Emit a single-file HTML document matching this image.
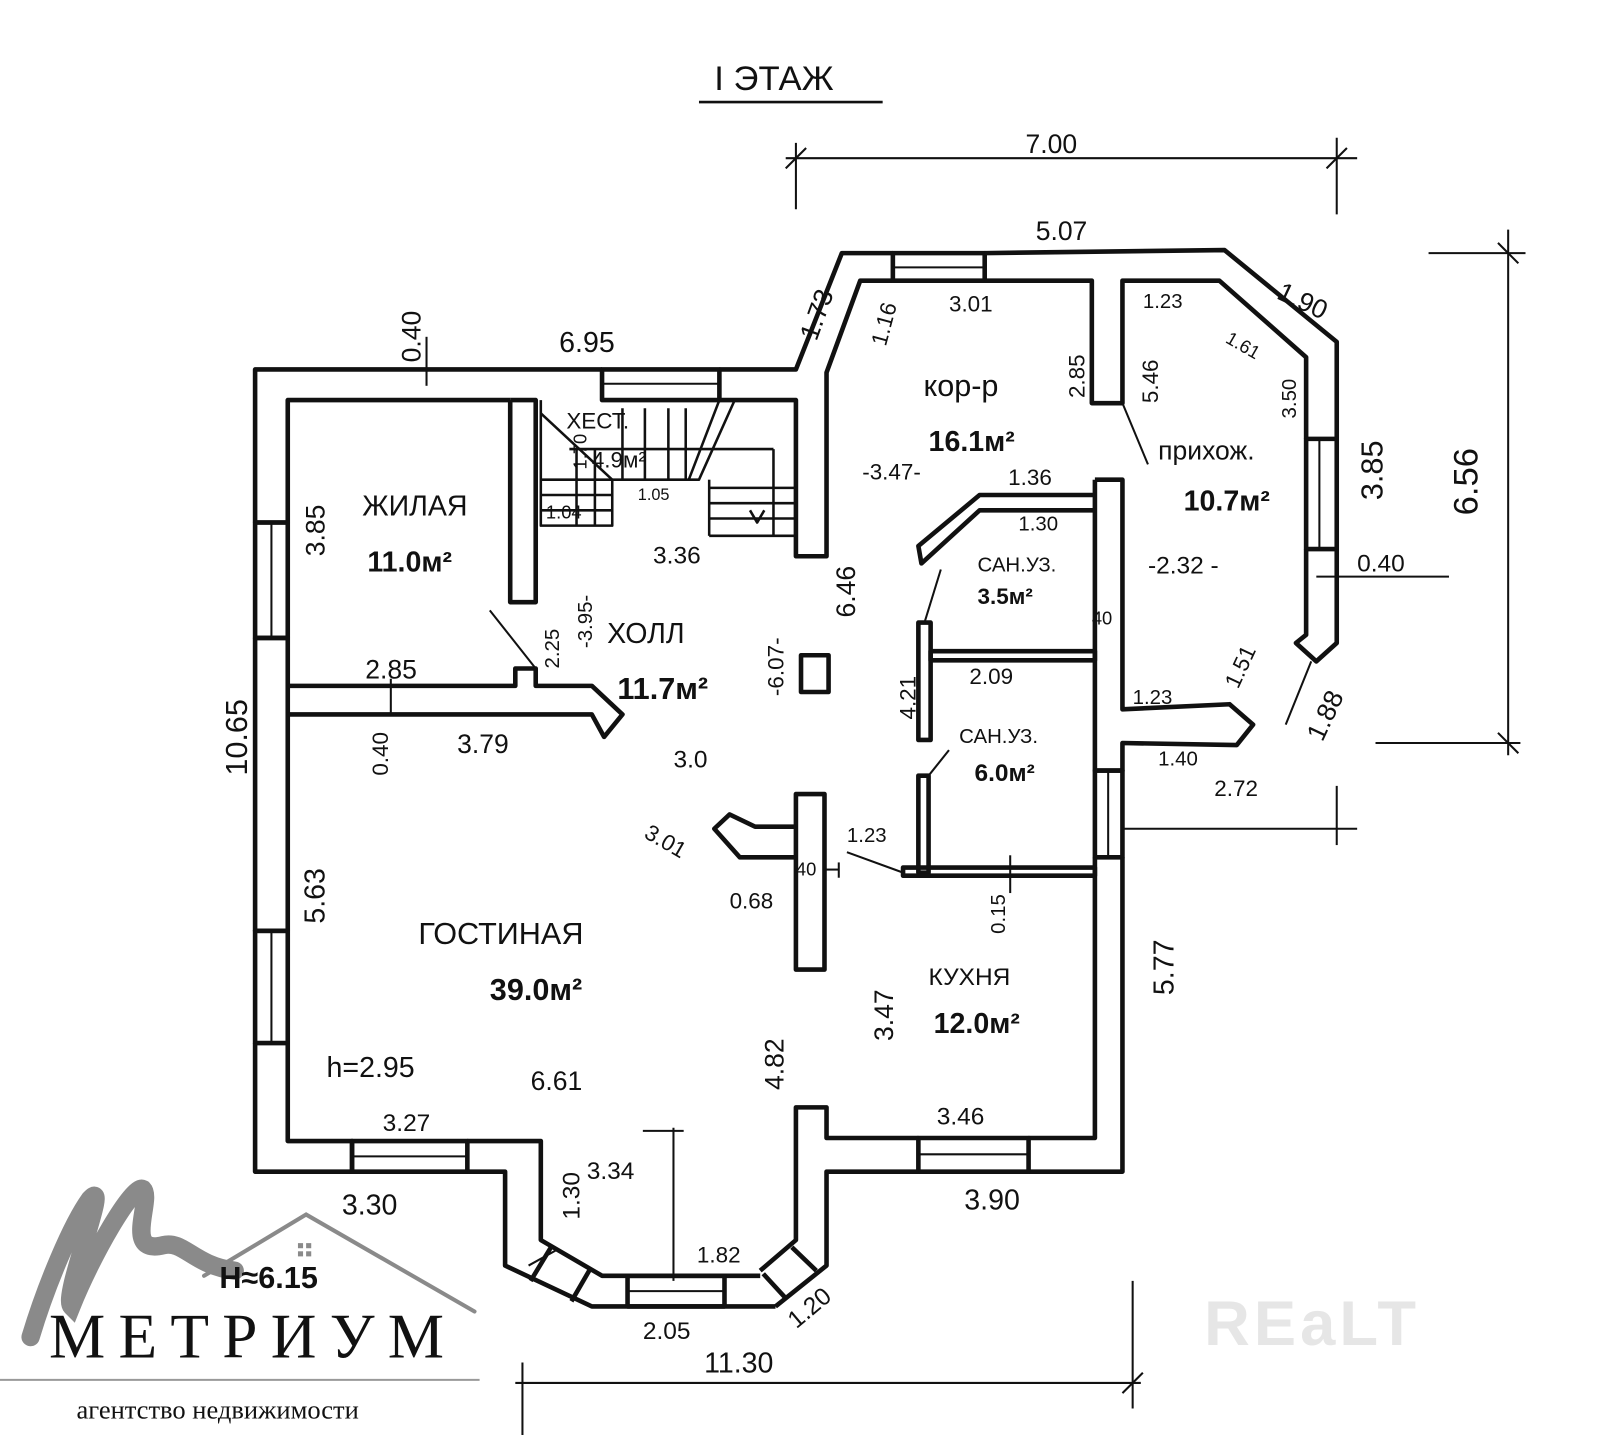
<!DOCTYPE html>
<html><head><meta charset="utf-8"><style>
html,body{margin:0;padding:0;background:#fff;}
svg{display:block}
text{font-family:"Liberation Sans",sans-serif;fill:#111;}
</style></head><body>
<svg width="1600" height="1435" viewBox="0 0 1568 1406" preserveAspectRatio="none" xmlns="http://www.w3.org/2000/svg">
<rect width="1568" height="1406" fill="#fff"/>
<g stroke="#111" stroke-width="4.5" fill="none" stroke-linejoin="round">
<line x1="685" y1="100" x2="865" y2="100" stroke-width="2.5"/>
<polyline points="250,512 250,362 590,362"/>
<polyline points="282,512 282,392 500,392"/>
<line x1="250" y1="512" x2="282" y2="512"/>
<rect x="250" y="512" width="32" height="113" fill="#fff"/><line x1="266" y1="512" x2="266" y2="625" stroke-width="2"/>
<polyline points="250,625 250,912 282,912 282,625 250,625"/>
<rect x="250" y="912" width="32" height="110"/><line x1="266" y1="912" x2="266" y2="1022" stroke-width="2"/>
<polyline points="250,1022 250,1148 345,1148 345,1118 282,1118 282,1022"/>
<rect x="345" y="1118" width="113" height="30"/><line x1="345" y1="1133" x2="458" y2="1133" stroke-width="2"/>
<rect x="590" y="362" width="115" height="30"/><line x1="590" y1="376" x2="705" y2="376" stroke-width="2"/>
<polyline points="705,362 780,362 825,248 875,248"/>
<polyline points="705,392 780,392 780,545 810,545 810,365 843,275 875,275"/>
<rect x="875" y="248" width="90" height="27"/><line x1="875" y1="262" x2="965" y2="262" stroke-width="2"/>
<polyline points="965,248 1200,245 1310,335 1310,430"/>
<polyline points="965,275 1070,275 1070,395 1100,395 1100,275 1195,275 1280,350 1280,430"/>
<rect x="1280" y="430" width="30" height="108"/><line x1="1293" y1="430" x2="1293" y2="538" stroke-width="2"/>
<polyline points="1280,538 1280,622 1270,630 1290,648 1310,630 1310,538"/>
<polyline points="1073,470 1100,470 1100,695 1205,690 1228,710 1212,730 1100,728 1100,755 1073,755 1073,470"/>
<rect x="1073" y="755" width="27" height="85"/><line x1="1086" y1="755" x2="1086" y2="840" stroke-width="2"/>
<polyline points="1100,840 1100,1148 1008,1148"/>
<polyline points="1073,840 1073,1115 1008,1115"/>
<rect x="900" y="1115" width="108" height="33"/><line x1="900" y1="1131" x2="1008" y2="1131" stroke-width="2"/>
<polyline points="900,1115 810,1115 810,1085 780,1085 780,1215 745,1245"/>
<polyline points="900,1148 810,1148 810,1240 760,1280"/>
<polyline points="458,1118 530,1118 530,1215 590,1250 745,1250"/>
<polyline points="458,1148 495,1148 495,1240 580,1280 760,1280"/>
<rect x="615" y="1250" width="95" height="30"/><line x1="615" y1="1265" x2="710" y2="1265" stroke-width="2"/>
<line x1="540" y1="1222" x2="520" y2="1255"/><line x1="578" y1="1244" x2="560" y2="1275"/>
<line x1="518" y1="1240" x2="545" y2="1225" stroke-width="2"/>
<line x1="748" y1="1248" x2="770" y2="1272"/><line x1="776" y1="1222" x2="800" y2="1245"/>
<polyline points="500,392 525,392 525,590 500,590 500,392"/>
<polyline points="282,672 505,672 505,655 525,655 525,672 580,672 610,700 592,722 580,700 282,700"/>
<line x1="525" y1="655" x2="480" y2="598" stroke-width="2"/>
<rect x="785" y="642" width="27" height="36"/>
<rect x="780" y="778" width="28" height="172"/>
<line x1="808" y1="852" x2="822" y2="852" stroke-width="2"/><line x1="822" y1="845" x2="822" y2="860" stroke-width="2"/>
<polyline points="780,810 740,810 715,798 700,812 725,840 780,840"/>
<polyline points="1073,485 960,485 900,535 903,552 960,500 1073,500"/>
<rect x="900" y="610" width="12" height="115"/>
<rect x="912" y="638" width="161" height="9"/>
<line x1="922" y1="558" x2="906" y2="610" stroke-width="2"/>
<rect x="900" y="760" width="10" height="95"/>
<rect x="885" y="850" width="188" height="8"/>
<line x1="910" y1="760" x2="930" y2="735" stroke-width="2"/>
<line x1="830" y1="835" x2="885" y2="855" stroke-width="2"/>
<line x1="990" y1="838" x2="990" y2="875" stroke-width="2"/>
<line x1="1100" y1="395" x2="1125" y2="455" stroke-width="2"/>
<g stroke-width="2.5">
<polyline points="530,392 530,515 600,515 600,470 685,470 720,392"/>
<line x1="705" y1="392" x2="675" y2="470"/>
<line x1="530" y1="485" x2="600" y2="485"/><line x1="530" y1="500" x2="600" y2="500"/>
<line x1="530" y1="470" x2="600" y2="470"/>
<line x1="558" y1="440" x2="758" y2="440"/>
<line x1="758" y1="440" x2="758" y2="525"/>
<line x1="565" y1="440" x2="565" y2="515"/><line x1="583" y1="440" x2="583" y2="515"/>
<line x1="610" y1="400" x2="610" y2="470"/><line x1="632" y1="400" x2="632" y2="470"/><line x1="655" y1="400" x2="655" y2="470"/><line x1="672" y1="400" x2="672" y2="470"/>
<line x1="695" y1="478" x2="780" y2="478"/><line x1="695" y1="493" x2="780" y2="493"/><line x1="695" y1="508" x2="780" y2="508"/>
<line x1="695" y1="470" x2="695" y2="525"/><line x1="695" y1="525" x2="780" y2="525"/>
<line x1="530" y1="405" x2="600" y2="470"/>
<polyline points="735,500 742,512 749,500"/>
</g>
<g stroke-width="2">
<line x1="770" y1="155" x2="1330" y2="155"/><line x1="780" y1="140" x2="780" y2="205"/><line x1="1310" y1="135" x2="1310" y2="210"/>
<line x1="770" y1="165" x2="790" y2="145"/><line x1="1300" y1="165" x2="1320" y2="145"/>
<line x1="1400" y1="248" x2="1495" y2="248"/><line x1="1478" y1="225" x2="1478" y2="740"/><line x1="1348" y1="728" x2="1490" y2="728"/>
<line x1="1468" y1="238" x2="1488" y2="258"/><line x1="1468" y1="718" x2="1488" y2="738"/>
<line x1="1290" y1="565" x2="1420" y2="565"/>
<line x1="1100" y1="812" x2="1330" y2="812"/><line x1="1310" y1="770" x2="1310" y2="828"/>
<line x1="1285" y1="648" x2="1260" y2="710"/>
<line x1="505" y1="1355" x2="1118" y2="1355"/><line x1="1110" y1="1255" x2="1110" y2="1380"/><line x1="1100" y1="1365" x2="1120" y2="1345"/>
<line x1="512" y1="1335" x2="512" y2="1420"/>
<line x1="630" y1="1108" x2="670" y2="1108"/><line x1="660" y1="1105" x2="660" y2="1255"/>
<line x1="418" y1="330" x2="418" y2="378"/>
<line x1="383" y1="665" x2="383" y2="700"/>
</g>
</g>
<g fill="none" stroke="#8a8a8a" stroke-linecap="round">
<path d="M30,1310 C45,1260 70,1200 88,1175 C110,1150 60,1270 70,1280 C90,1230 130,1160 140,1165 C150,1175 120,1230 160,1220 C180,1215 190,1240 230,1245" stroke-width="18"/>
<polyline points="200,1250 300,1190 465,1285" stroke-width="4"/>
</g>
<g fill="#8a8a8a"><rect x="292" y="1218" width="5" height="5"/><rect x="300" y="1218" width="5" height="5"/><rect x="292" y="1226" width="5" height="5"/><rect x="300" y="1226" width="5" height="5"/></g>
<text x="48" y="1330" font-size="62" letter-spacing="13" style="font-family:'Liberation Serif',serif">МЕТРИУМ</text>
<line x1="0" y1="1352" x2="470" y2="1352" stroke="#999" stroke-width="2"/>
<text x="75" y="1390" font-size="26" style="font-family:'Liberation Serif',serif">агентство недвижимости</text>
<text x="1180" y="1318" font-size="62" style="fill:#e6e6e6;font-weight:bold" letter-spacing="4">REaLT</text>
<g font-size="26">
<text x="700" y="88" font-size="34">I  ЭТАЖ</text>
<text x="1005" y="150">7.00</text>
<text x="1015" y="235">5.07</text>
<text x="1250" y="292" transform="rotate(25 1250 292)">1.90</text>
<text x="930" y="305" font-size="22">3.01</text>
<text x="1120" y="302" font-size="20">1.23</text>
<text x="1200" y="335" font-size="18" transform="rotate(30 1200 335)">1.61</text>
<text x="905" y="388" font-size="30">кор-р</text>
<text x="910" y="442" font-size="28" font-weight="bold">16.1м²</text>
<text x="1135" y="450" font-size="26">прихож.</text>
<text x="1160" y="500" font-size="28" font-weight="bold">10.7м²</text>
<text x="845" y="470" font-size="22">-3.47-</text>
<text x="988" y="475" font-size="22">1.36</text>
<text x="998" y="520" font-size="20">1.30</text>
<text x="958" y="560" font-size="20">САН.УЗ.</text>
<text x="958" y="592" font-size="22" font-weight="bold">3.5м²</text>
<text x="1125" y="562" font-size="24">-2.32 -</text>
<text x="1330" y="560" font-size="24">0.40</text>
<text x="950" y="670" font-size="22">2.09</text>
<text x="1110" y="690" font-size="20">1.23</text>
<text x="1135" y="750" font-size="20">1.40</text>
<text x="940" y="728" font-size="20">САН.УЗ.</text>
<text x="955" y="765" font-size="24" font-weight="bold">6.0м²</text>
<text x="1190" y="780" font-size="22">2.72</text>
<text x="830" y="825" font-size="20">1.23</text>
<text x="548" y="345" font-size="28">6.95</text>
<text x="555" y="420" font-size="22">ХЕСТ.</text>
<text x="580" y="458" font-size="22">4.9м²</text>
<text x="625" y="490" font-size="16">1.05</text>
<text x="535" y="508" font-size="18">1.04</text>
<text x="640" y="552" font-size="24">3.36</text>
<text x="355" y="505" font-size="28">ЖИЛАЯ</text>
<text x="360" y="560" font-size="28" font-weight="bold">11.0м²</text>
<text x="595" y="630" font-size="28">ХОЛЛ</text>
<text x="605" y="685" font-size="30" font-weight="bold">11.7м²</text>
<text x="358" y="665" font-size="26">2.85</text>
<text x="448" y="738" font-size="26">3.79</text>
<text x="660" y="752" font-size="24">3.0</text>
<text x="630" y="820" font-size="22" transform="rotate(30 630 820)">3.01</text>
<text x="715" y="890" font-size="22">0.68</text>
<text x="780" y="858" font-size="18">40</text>
<text x="1070" y="612" font-size="18">40</text>
<text x="410" y="925" font-size="30">ГОСТИНАЯ</text>
<text x="480" y="980" font-size="30" font-weight="bold">39.0м²</text>
<text x="910" y="965" font-size="24">КУХНЯ</text>
<text x="915" y="1012" font-size="28" font-weight="bold">12.0м²</text>
<text x="320" y="1055" font-size="28">h=2.95</text>
<text x="520" y="1068" font-size="26">6.61</text>
<text x="375" y="1108" font-size="24">3.27</text>
<text x="918" y="1102" font-size="24">3.46</text>
<text x="335" y="1190" font-size="28">3.30</text>
<text x="945" y="1185" font-size="28">3.90</text>
<text x="575" y="1155" font-size="24">3.34</text>
<text x="683" y="1237" font-size="22">1.82</text>
<text x="630" y="1312" font-size="24">2.05</text>
<text x="765" y="1290" font-size="24" transform="rotate(-40 790 1275)">1.20</text>
<text x="215" y="1262" font-size="30" font-weight="bold">H≈6.15</text>
<text x="690" y="1345" font-size="28">11.30</text>
<text x="1200" y="665" font-size="22" transform="rotate(-65 1215 660)">1.51</text>
<text x="1272" y="720" font-size="26" transform="rotate(-65 1290 705)">1.88</text>
<g>
<text transform="translate(412,355) rotate(-90)" font-size="26">0.40</text>
<text transform="translate(318,545) rotate(-90)" font-size="26">3.85</text>
<text transform="translate(242,760) rotate(-90)" font-size="30">10.65</text>
<text transform="translate(318,905) rotate(-90)" font-size="28">5.63</text>
<text transform="translate(380,760) rotate(-90)" font-size="22">0.40</text>
<text transform="translate(548,655) rotate(-90)" font-size="20">2.25</text>
<text transform="translate(580,635) rotate(-90)" font-size="20">-3.95-</text>
<text transform="translate(768,682) rotate(-90)" font-size="22">-6.07-</text>
<text transform="translate(838,605) rotate(-90)" font-size="26">6.46</text>
<text transform="translate(800,335) rotate(-70)" font-size="26">1.73</text>
<text transform="translate(868,340) rotate(-75)" font-size="22">1.16</text>
<text transform="translate(1063,390) rotate(-90)" font-size="22">2.85</text>
<text transform="translate(1135,395) rotate(-90)" font-size="22">5.46</text>
<text transform="translate(1270,410) rotate(-90)" font-size="20">3.50</text>
<text transform="translate(1355,490) rotate(-90)" font-size="30">3.85</text>
<text transform="translate(1448,505) rotate(-90)" font-size="34">6.56</text>
<text transform="translate(897,705) rotate(-90)" font-size="22">4.21</text>
<text transform="translate(575,460) rotate(-90)" font-size="18">1.70</text>
<text transform="translate(985,915) rotate(-90)" font-size="20">0.15</text>
<text transform="translate(875,1020) rotate(-90)" font-size="26">3.47</text>
<text transform="translate(1150,975) rotate(-90)" font-size="28">5.77</text>
<text transform="translate(768,1068) rotate(-90)" font-size="26">4.82</text>
<text transform="translate(568,1195) rotate(-90)" font-size="24">1.30</text>
</g>
</g>
</svg>
</body></html>
